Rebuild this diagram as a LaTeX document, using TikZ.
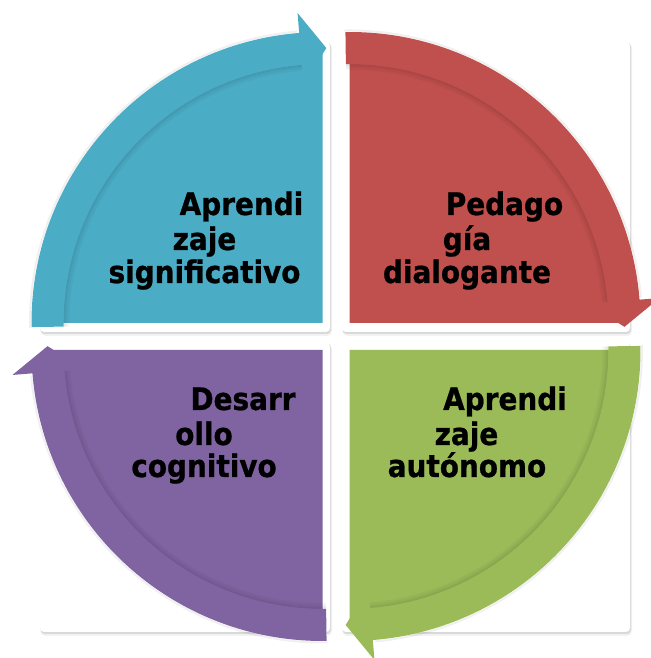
\documentclass[tikz,border=0pt]{standalone}
\usepackage{fontspec}
\newfontfamily\lblfont{DejaVu Sans Bold}[FakeStretch=0.9,FakeBold=0.8]
\definecolor{cteal}{HTML}{4BACC6}
\definecolor{cred}{HTML}{C0504D}
\definecolor{cgreen}{HTML}{9BBB59}
\definecolor{cpurple}{HTML}{8064A2}
\newcommand\drawpanel[4]{%
  \fill[black,opacity=0.05,rounded corners=5pt] (#1+0.5,#2-4) rectangle (#3+2,#4-1);
  \fill[black,opacity=0.10,rounded corners=4pt] (#1+0.5,#2-2) rectangle (#3+1,#4-0.5);
  \fill[white,rounded corners=4pt] (#1,#2) rectangle (#3,#4);}
\newcommand\drawquadrant[3]{%
  \begin{scope}[shift={#1},rotate=#2]
    \draw[black,opacity=0.06,line width=2pt] (181:292.5) arc[start angle=181,end angle=95,radius=292.5];
    \fill[#3] (0,0) -- (180:275) arc[start angle=180,end angle=90,radius=275] -- cycle;
    \draw[black,opacity=0.03,line width=2pt] (180.8:254) arc[start angle=180.8,end angle=94.6,radius=254];
    \draw[black,opacity=0.06,line width=2pt] (180.8:256) arc[start angle=180.8,end angle=94.6,radius=256];
    \draw[black,opacity=0.10,line width=2pt] (180.8:258) arc[start angle=180.8,end angle=94.6,radius=258];
    \fill[#3] (180.8:291) arc[start angle=180.8,end angle=94.6,radius=291]
      -- (94.6:311) -- (89.2:275) -- (94.6:239) -- (94.6:259)
      arc[start angle=94.6,end angle=180.8,radius=259] -- cycle;
  \end{scope}}
\tikzset{lbl/.style={font=\lblfont\fontsize{31}{34}\selectfont, anchor=base, inner sep=0pt, text=black}}
\begin{document}
\begin{tikzpicture}[x=1pt,y=1pt]
\useasboundingbox (0,0) rectangle (650,658);
\fill[white] (0,0) rectangle (650,658);
% panels
\drawpanel{40}{326}{330}{616}
\drawpanel{342}{326}{630}{616}
\drawpanel{40}{26}{330}{315}
\drawpanel{342}{26}{630}{315}
% quadrants
\drawquadrant{(322.5,335)}{0}{cteal}
\drawquadrant{(349.5,335)}{-90}{cred}
\drawquadrant{(349.5,308)}{-180}{cgreen}
\drawquadrant{(322.5,308)}{-270}{cpurple}
% labels
\node[lbl] (t1a) at (241.5,443) {Aprendi};
\node[lbl] (t1b) at (204.5,408) {zaje};
\node[lbl] (t1c) at (204.5,375) {significativo};
\node[lbl] (t2a) at (504.5,443) {Pedago};
\node[lbl] (t2b) at (467,408) {gía};
\node[lbl] (t2c) at (467,375) {dialogante};
\node[lbl] (t3a) at (505,248) {Aprendi};
\node[lbl] (t3b) at (466.5,213) {zaje};
\node[lbl] (t3c) at (467,181) {autónomo};
\node[lbl] (t4a) at (243,248) {Desarr};
\node[lbl] (t4b) at (204,213) {ollo};
\node[lbl] (t4c) at (204,181) {cognitivo};
\end{tikzpicture}
\end{document}
